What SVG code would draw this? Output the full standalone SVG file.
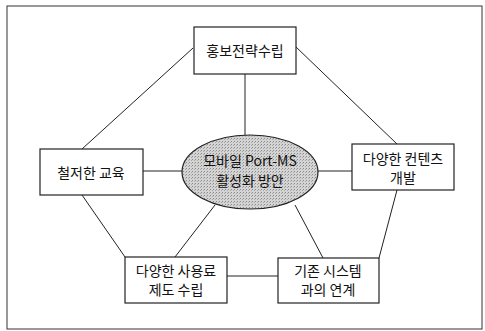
<svg xmlns="http://www.w3.org/2000/svg" width="485" height="331" viewBox="0 0 485 331">
<defs>
<style>
.box{fill:#fff;stroke:#222;stroke-width:1.2}
.t{font-family:"Noto Sans CJK KR","Noto Sans",sans-serif;font-size:14px;fill:#111;text-anchor:middle}
.c{stroke:#222;stroke-width:1;fill:none}
</style>
<pattern id="dots" width="3" height="3" patternUnits="userSpaceOnUse">
<rect width="3" height="3" fill="#d4d4d4"/>
<rect x="0" y="0" width="1" height="1" fill="#8a8a8a"/>
<rect x="2" y="1" width="1" height="1" fill="#a8a8a8"/>
</pattern>
</defs>
<rect width="485" height="331" fill="#fff"/>
<rect x="7" y="6" width="475" height="323" fill="none" stroke="#333" stroke-width="1"/>
<g id="connectors">
<line class="c" x1="245" y1="74" x2="245" y2="135"/>
<line class="c" x1="193" y1="48" x2="82" y2="149"/>
<line class="c" x1="296" y1="47" x2="397" y2="144"/>
<line class="c" x1="143" y1="171" x2="182" y2="171"/>
<line class="c" x1="318" y1="171" x2="352" y2="171"/>
<line class="c" x1="82" y1="195" x2="125" y2="257"/>
<line class="c" x1="215" y1="205" x2="175" y2="257"/>
<line class="c" x1="295" y1="205" x2="323" y2="258"/>
<line class="c" x1="397" y1="190" x2="379" y2="258"/>
<line class="c" x1="227" y1="276" x2="278" y2="276"/>
</g>
<g id="center">
<ellipse cx="250" cy="172" rx="68" ry="37" fill="url(#dots)" stroke="#222" stroke-width="1.2"/>
<text class="t" x="250" y="166">모바일 Port-MS</text>
<text class="t" x="250" y="186">활성화 방안</text>
</g>
<g id="n-top">
<rect class="box" x="194" y="27" width="102" height="47"/>
<text class="t" x="245" y="56">홍보전략수립</text>
</g>
<g id="n-left">
<rect class="box" x="40" y="149" width="103" height="46"/>
<text class="t" x="91" y="178">철저한 교육</text>
</g>
<g id="n-right">
<rect class="box" x="352" y="144" width="102" height="46"/>
<text class="t" x="403" y="164">다양한 컨텐츠</text>
<text class="t" x="403" y="183">개발</text>
</g>
<g id="n-bottom-left">
<rect class="box" x="125" y="257" width="102" height="46"/>
<text class="t" x="176" y="276">다양한 사용료</text>
<text class="t" x="176" y="295">제도 수립</text>
</g>
<g id="n-bottom-right">
<rect class="box" x="278" y="258" width="101" height="45"/>
<text class="t" x="328" y="276">기존 시스템</text>
<text class="t" x="328" y="295">과의 연계</text>
</g>
</svg>
